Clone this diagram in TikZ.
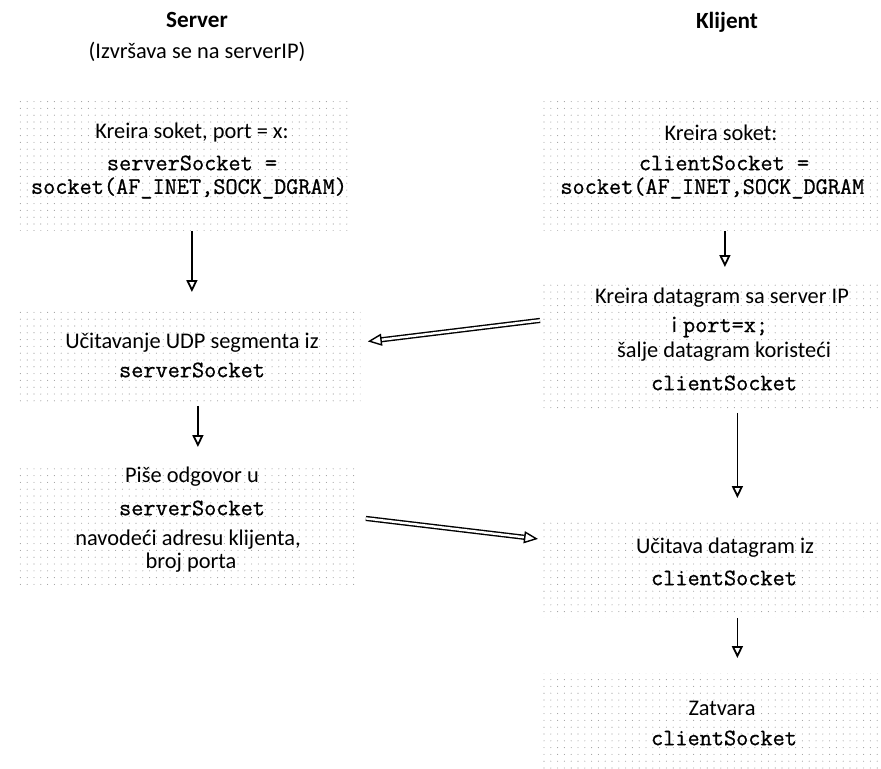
\documentclass[tikz,border=0pt]{standalone}
\usepackage{fontspec}
\setmainfont{Carlito}
\newfontfamily\codefont[FakeBold=0.8]{Latin Modern Mono}
\usetikzlibrary{arrows.meta,patterns.meta}
\begin{document}
\begin{tikzpicture}[x=0.5pt,y=-0.5pt,
  stage/.style={pattern={Dots[radius=0.28pt,distance=3.4pt]},pattern color=black!38,
    inner sep=0pt,anchor=north west},
  label/.style={align=center,font=\fontsize{11.2pt}{14pt}\selectfont,inner sep=0pt},
  title/.style={font=\fontsize{11.6pt}{13pt}\selectfont\bfseries,inner sep=0pt},
  flow/.style={line width=0.75pt,-{Triangle[open,length=6pt,width=5.5pt,line width=0.9pt]}},
  msg/.style={double,double distance=1.2pt,line width=0.7pt,
    -{Triangle[open,length=7pt,width=6pt]}}]
\newcommand{\code}[1]{{\codefont\fontsize{11.8pt}{13pt}\selectfont #1}}
\useasboundingbox (0,0) rectangle (881,768);

% column headings
\node[title] (srvhead) at (197,20) {Server};
\node[label] (srvnote) at (197,52) {(Izvršava se na serverIP)};
\node[title] (clihead) at (727,22) {Klijent};

% server side stages
\node[stage,minimum width=167.5pt,minimum height=66pt] (s1) at (15,98) {};
\node[stage,minimum width=171.5pt,minimum height=49pt] (s2) at (17,307) {};
\node[stage,minimum width=170pt,minimum height=61pt] (s3) at (17,465) {};

% client side stages
\node[stage,minimum width=170.5pt,minimum height=66pt] (c1) at (540,98) {};
\node[stage,minimum width=169pt,minimum height=65pt] (c2) at (543,282) {};
\node[stage,minimum width=169pt,minimum height=48.5pt] (c3) at (543,520) {};
\node[stage,minimum width=169pt,minimum height=47.5pt] (c4) at (543,673) {};

% stage texts
\node[label] (s1a) at (192,133) {Kreira soket, port = x:};
\node[label] (s1b) at (192,163) {\code{serverSocket =}};
\node[label] (s1c) at (189,188) {\code{socket(AF\_INET,SOCK\_DGRAM)}};

\node[label] (s2a) at (192,343) {Učitavanje UDP segmenta iz};
\node[label] (s2b) at (192,370) {\code{serverSocket}};

\node[label] (s3a) at (192,477) {Piše odgovor u};
\node[label] (s3b) at (192,508) {\code{serverSocket}};
\node[label] (s3c) at (188,540) {navodeći adresu klijenta,};
\node[label] (s3d) at (191,563) {broj porta};

\node[label] (c1a) at (721,133) {Kreira soket:};
\node[label] (c1b) at (724,163) {\code{clientSocket =}};
\node[label,anchor=west] (c1c) at (560,188) {\code{socket(AF\_INET,SOCK\_DGRAM}};

\node[label] (c2a) at (722,298) {Kreira datagram sa server IP};
\node[label] (c2b) at (720,327) {i\hspace{3pt}\code{port=x;}};
\node[label] (c2c) at (724,352) {šalje datagram koristeći};
\node[label] (c2d) at (724,383) {\code{clientSocket}};

\node[label] (c3a) at (725,548) {Učitava datagram iz};
\node[label] (c3b) at (724,578) {\code{clientSocket}};

\node[label] (c4a) at (722,708) {Zatvara};
\node[label] (c4b) at (724,738) {\code{clientSocket}};

% control flow
\draw[flow,shorten >=7.5pt] ([xshift=4.5pt]s1.south) -- ([xshift=4.5pt]s1.south |- s2.north);
\draw[flow,shorten >=9pt] ([xshift=4.5pt]s2.south) -- ([xshift=4.5pt]s2.south |- s3.north);
\draw[flow,shorten >=7.5pt] ([xshift=7pt]c1.south) -- ([xshift=7pt]c1.south |- c2.north);
\draw[flow,shorten >=11pt] ([xshift=12.5pt]c2.south) -- ([xshift=12.5pt]c2.south |- c3.north);
\draw[flow,shorten >=7.5pt] ([xshift=12.5pt]c3.south) -- ([xshift=12.5pt]c3.south |- c4.north);

% datagrams exchanged
\draw[msg] ([xshift=-1.5pt,yshift=13.5pt]c2.west) -- ([xshift=3.5pt,yshift=7.5pt]s2.east);
\draw[msg] ([xshift=4pt,yshift=4pt]s3.east) -- ([xshift=-2.5pt,yshift=15pt]c3.west);
\end{tikzpicture}
\end{document}
